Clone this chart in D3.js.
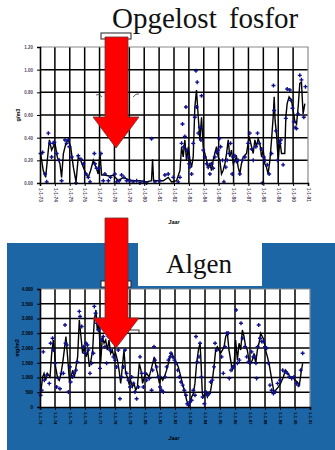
<!DOCTYPE html>
<html><head><meta charset="utf-8">
<script src="https://cdn.jsdelivr.net/npm/d3@7"></script>
<style>body{margin:0;background:#fff}svg{display:block}</style></head>
<body>
<script>
// ---- data ----
const fosforTitle = "Opgelost fosfor";
const algenTitle = "Algen";
const xTickLabels = ["1-1-73","1-1-74","1-1-75","1-1-76","1-1-77","1-1-78","1-1-79","1-1-80","1-1-81","1-1-82","1-1-83","1-1-84","1-1-85","1-1-86","1-1-87","1-1-88","1-1-89","1-1-90","1-1-91"];
const fosforTicks = [0,0.2,0.4,0.6,0.8,1.0,1.2];
const algenTicks = [0,500,1000,1500,2000,2500,3000,3500,4000];

const fosforLineT = [0.04,0.22,0.38,0.49,0.63,0.78,0.89,1.01,1.16,1.34,1.45,1.57,1.74,1.90,2.06,2.24,2.42,2.57,2.73,2.91,3.09,3.24,3.40,3.58,3.76,3.91,4.03,4.14,4.36,4.70,4.92,5.26,5.59,5.93,6.26,6.71,7.16,7.49,7.56,7.63,7.94,8.28,8.61,8.84,9.17,9.40,9.51,9.62,9.73,9.84,9.96,10.07,10.18,10.29,10.40,10.51,10.63,10.74,10.85,10.96,11.07,11.19,11.30,11.41,11.52,11.63,11.74,11.86,11.97,12.08,12.19,12.30,12.42,12.53,12.64,12.75,12.86,12.98,13.09,13.20,13.31,13.42,13.53,13.65,13.87,14.05,14.21,14.32,14.43,14.54,14.65,14.77,14.88,14.99,15.10,15.21,15.32,15.44,15.55,15.66,15.73,15.79,15.88,16.00,16.11,16.22,16.44,16.51,16.60,16.73,16.89,17.00,17.11,17.23,17.34,17.45,17.56,17.67,17.79];
const fosforLineV = [0.26,0.11,0.05,0.20,0.38,0.29,0.32,0.35,0.23,0.17,0.05,0.26,0.35,0.38,0.32,0.14,0.01,0.23,0.20,0.14,0.08,0.05,0.11,0.20,0.14,0.08,0.26,0.07,0.07,0.06,0.07,0.02,0.05,0.03,0.02,0.02,0.01,0.02,0.21,0.02,0.02,0.02,0.05,0.01,0.02,0.11,0.32,0.23,0.38,0.20,0.32,0.20,0.14,0.23,0.67,0.82,0.58,0.38,0.58,0.32,0.26,0.20,0.14,0.17,0.11,0.20,0.26,0.32,0.23,0.20,0.08,0.11,0.17,0.26,0.38,0.23,0.29,0.17,0.20,0.23,0.14,0.08,0.17,0.23,0.26,0.41,0.32,0.26,0.38,0.32,0.39,0.35,0.23,0.29,0.17,0.14,0.08,0.20,0.38,0.58,0.76,0.55,0.44,0.20,0.38,0.26,0.26,0.58,0.70,0.76,0.73,0.64,0.55,0.52,0.67,0.88,0.89,0.61,0.70];

const fosforPtT = [0.04,0.18,0.34,0.45,0.56,0.67,0.78,0.89,0.96,1.12,1.30,1.45,1.68,1.79,1.90,1.97,2.13,2.42,2.57,2.75,2.91,3.09,3.24,3.36,3.65,3.69,3.80,3.98,4.09,4.25,4.36,4.59,4.74,5.03,5.15,5.32,5.48,5.64,5.82,6.04,6.26,6.49,6.71,6.94,7.16,7.49,7.72,8.05,8.39,8.61,8.95,9.28,9.40,9.51,9.57,9.66,9.73,9.80,9.84,9.96,10.02,10.07,10.18,10.29,10.40,10.47,10.51,10.56,10.63,10.74,10.81,10.85,10.96,11.07,11.19,11.30,11.41,11.52,11.63,11.74,11.86,11.97,12.04,12.13,12.26,12.35,12.48,12.57,12.71,12.80,12.91,12.98,13.09,13.20,13.31,13.42,13.60,13.76,13.98,14.09,14.21,14.32,14.50,14.61,14.72,14.88,14.94,15.03,15.12,15.26,15.39,15.55,15.68,15.73,15.84,15.95,16.11,16.17,16.33,16.51,16.60,16.78,16.85,16.96,17.05,17.14,17.23,17.34,17.45,17.56,17.72,17.83];
const fosforPtV = [0.26,0.27,0.08,0.01,0.44,0.35,0.23,0.35,0.36,0.26,0.20,0.02,0.38,0.35,0.38,0.32,0.23,0.00,0.24,0.21,0.17,0.08,0.05,0.01,0.26,0.17,0.13,0.13,0.26,0.02,0.08,0.02,0.05,0.08,0.01,0.02,0.07,0.05,0.02,0.02,0.01,0.02,0.00,0.01,0.00,0.39,0.01,0.02,0.07,0.08,0.05,0.01,0.05,0.35,0.52,0.32,0.41,0.67,0.29,0.23,0.17,0.14,0.08,0.35,0.58,0.99,0.67,0.89,0.44,0.49,0.38,0.77,0.29,0.23,0.17,0.14,0.08,0.17,0.13,0.23,0.27,0.29,0.39,0.32,0.20,0.01,0.14,0.20,0.26,0.35,0.08,0.23,0.24,0.19,0.20,0.08,0.20,0.23,0.35,0.44,0.30,0.20,0.32,0.44,0.35,0.30,0.00,0.23,0.20,0.16,0.08,0.26,0.86,0.64,0.46,0.20,0.35,0.38,0.16,0.57,0.83,0.82,0.73,0.66,0.54,0.49,0.48,0.61,0.95,0.91,0.58,0.85];

const algenLineT = [0.04,0.18,0.27,0.38,0.49,0.67,0.78,0.89,0.96,1.04,1.16,1.29,1.40,1.51,1.62,1.73,1.84,1.96,2.07,2.18,2.29,2.40,2.51,2.62,2.73,2.84,2.96,3.07,3.18,3.29,3.40,3.51,3.62,3.73,3.82,3.93,4.04,4.16,4.27,4.38,4.49,4.60,4.71,4.82,4.93,5.04,5.16,5.27,5.38,5.49,5.60,5.71,5.82,5.93,6.04,6.16,6.27,6.38,6.49,6.62,6.73,6.84,6.96,7.11,7.27,7.40,7.51,7.62,7.73,7.84,7.96,8.07,8.18,8.29,8.44,8.56,8.67,8.78,8.89,9.00,9.11,9.22,9.33,9.44,9.56,9.67,9.78,9.89,10.00,10.11,10.22,10.33,10.44,10.56,10.67,10.73,10.82,10.93,11.04,11.16,11.27,11.38,11.49,11.60,11.71,11.82,11.93,12.04,12.16,12.27,12.38,12.49,12.60,12.71,12.82,12.93,13.04,13.16,13.27,13.38,13.49,13.60,13.71,13.82,13.93,14.04,14.16,14.27,14.38,14.49,14.60,14.71,14.82,14.93,15.04,15.16,15.27,15.38,15.49,15.60,15.71,15.89,16.04,16.22,16.38,16.53,16.69,16.84,17.00,17.16,17.29,17.40,17.51];
const algenLineV = [455,1020,1140,910,1140,1020,1820,2270,1930,1360,1020,910,1140,1480,1930,2390,1700,910,1020,1250,1020,1360,1700,2950,2390,1820,2040,1700,1930,1360,1590,1930,2950,3290,2610,2840,1480,2390,2160,2270,1930,2270,1820,1930,1700,1820,1590,1250,800,1360,1930,1140,1020,800,910,680,800,570,680,1480,1250,800,1020,1140,1020,1250,1480,1700,1360,1140,800,1020,910,1020,1250,1480,1700,1820,1700,1590,1480,1360,1140,910,680,455,230,60,170,340,455,800,1480,1930,2160,1590,455,340,570,340,455,570,910,1360,1930,2040,1930,1820,1930,2040,2390,2500,1930,1590,1250,1360,2270,1590,2160,1930,2610,2390,2040,1930,1590,1480,1590,1820,1480,1930,2160,2500,2390,2270,1930,1700,1480,1140,800,510,570,680,800,1020,1250,1140,1020,1020,910,850,740,1140,1480];

const algenPtT = [0.04,0.11,0.22,0.29,0.44,0.62,0.71,0.84,0.89,1.00,1.11,1.22,1.33,1.44,1.56,1.67,1.71,1.78,1.89,2.00,2.04,2.16,2.27,2.40,2.49,2.62,2.67,2.78,2.89,3.00,3.07,3.16,3.22,3.33,3.44,3.56,3.62,3.71,3.78,3.89,4.00,4.11,4.22,4.33,4.44,4.56,4.67,4.78,4.89,5.00,5.11,5.22,5.33,5.44,5.56,5.67,5.78,5.89,6.00,6.11,6.22,6.33,6.44,6.56,6.67,6.78,6.89,7.00,7.11,7.29,7.44,7.51,7.60,7.67,7.78,7.89,8.00,8.11,8.22,8.33,8.44,8.56,8.67,8.73,8.84,8.96,9.07,9.18,9.29,9.40,9.51,9.62,9.73,9.82,9.91,10.00,10.11,10.22,10.33,10.40,10.49,10.60,10.67,10.76,10.84,10.96,11.04,11.16,11.27,11.38,11.49,11.60,11.67,11.78,12.11,12.22,12.33,12.44,12.56,12.62,12.73,12.84,12.93,13.07,13.16,13.29,13.40,13.51,13.67,13.78,13.89,14.00,14.11,14.22,14.33,14.40,14.44,14.51,14.58,14.67,14.78,14.89,15.00,15.11,15.22,15.33,15.44,15.56,15.67,15.84,16.00,16.18,16.33,16.49,16.62,16.78,16.93,17.11,17.22,17.38,17.51];
const algenPtV = [400,570,1870,910,1080,800,2160,2330,1930,1480,680,970,620,1140,1140,2780,2160,2100,510,1360,850,1020,1140,1250,1530,3240,3070,2730,2040,1820,2160,2100,1930,1140,1480,1820,3410,3180,2840,2610,1310,2270,2390,2040,1480,2390,1930,2270,1700,1590,1360,1930,280,1020,1360,1930,1140,910,680,1020,800,510,280,680,1700,1140,680,1140,910,970,570,1250,2040,1590,1360,1020,680,570,510,1020,1360,1590,1700,1820,1700,1590,1480,1250,1020,850,740,570,400,110,60,170,230,570,400,2390,1530,1700,2160,1020,340,110,510,400,455,850,910,1360,2160,1930,1700,1140,2040,2500,2500,970,1250,1360,1360,3290,1480,1590,2840,2330,2040,1700,1530,1480,1870,1700,1700,1480,970,2040,2780,2330,2220,2220,2040,1990,1480,740,570,455,510,800,910,1250,1190,1140,1020,970,1020,800,740,1250,1820];

// ---- drawing ----
const W = 335, H = 450;
const svg = d3.select("body").append("svg").attr("width", W).attr("height", H);
const BLUE = "#1c66a6";

svg.append("rect").attr("x", 7).attr("y", 243).attr("width", W - 7).attr("height", H - 243).attr("fill", BLUE);
svg.append("rect").attr("x", 138).attr("y", 242).attr("width", 124).attr("height", 44).attr("fill", "#fff");

const nl = d3.formatLocale({decimal: ",", thousands: ".", grouping: [3], currency: ["€", ""]});

function chart(cfg) {
  const x = d3.scaleLinear().domain([0, 18]).range([cfg.x0, cfg.x1]);
  const y = d3.scaleLinear().domain([0, cfg.ymax]).range([cfg.y1, cfg.y0]);
  const g = svg.append("g");
  g.append("rect").attr("x", cfg.x0).attr("y", cfg.y0).attr("width", cfg.x1 - cfg.x0).attr("height", cfg.y1 - cfg.y0).attr("fill", "#fff");
  g.selectAll(".vg").data(d3.range(1, 18)).join("line")
    .attr("x1", d => x(d)).attr("x2", d => x(d)).attr("y1", cfg.y0).attr("y2", cfg.y1)
    .attr("stroke", "#000").attr("stroke-width", 1.5);
  g.selectAll(".hg").data(cfg.ticks.slice(1, -1)).join("line")
    .attr("x1", cfg.x0).attr("x2", cfg.x1).attr("y1", d => y(d)).attr("y2", d => y(d))
    .attr("stroke", "#000").attr("stroke-width", 1.5);
  g.append("path").attr("d", `M${cfg.x0},${cfg.y0}H${cfg.x1}V${cfg.y1}`).attr("fill", "none").attr("stroke", "#8a8a8a").attr("stroke-width", 1.2);

  const lineData = d3.zip(cfg.lineT, cfg.lineV);
  g.append("path").datum(lineData)
    .attr("d", d3.line().x(d => x(d[0])).y(d => y(d[1])))
    .attr("fill", "none").attr("stroke", "#000").attr("stroke-width", 1.4);
  const ptData = d3.zip(cfg.ptT, cfg.ptV);
  g.selectAll(".pt").data(ptData).join("path")
    .attr("transform", d => `translate(${x(d[0])},${y(d[1])})`)
    .attr("d", "M-2,0H2M0,-2V2")
    .attr("stroke", "#10108a").attr("stroke-width", 1.4);

  const ya = d3.axisLeft(y).tickValues(cfg.ticks).tickSize(3).tickFormat(cfg.fmt);
  const yg = g.append("g").attr("transform", `translate(${cfg.x0},0)`).call(ya);
  yg.select(".domain").attr("stroke", "#000").attr("stroke-width", 1.6);
  yg.selectAll(".tick line").attr("stroke", "#000");
  yg.selectAll("text").attr("font-family", "Arial, Liberation Sans, sans-serif").attr("font-size", 4.5).attr("font-weight", "bold").attr("fill", cfg.lab).attr("dx", -1);

  const xa = d3.axisBottom(x).tickValues(d3.range(0, 19)).tickSize(3).tickFormat(i => xTickLabels[i]);
  const xg = g.append("g").attr("transform", `translate(0,${cfg.y1})`).call(xa);
  xg.select(".domain").attr("stroke", "#000").attr("stroke-width", 1.6);
  xg.selectAll(".tick line").attr("stroke", "#000");
  xg.selectAll("text")
    .attr("font-family", "Arial, Liberation Sans, sans-serif").attr("font-size", cfg.xfs).attr("font-weight", "bold").attr("fill", cfg.lab)
    .attr("transform", "rotate(90)").attr("text-anchor", "start")
    .attr("x", 5).attr("y", 0).attr("dy", "0.35em");

  g.append("text").attr("transform", `translate(${cfg.ylabX},${(cfg.y0 + cfg.y1) / 2}) rotate(-90)`)
    .attr("text-anchor", "middle").attr("font-family", "Arial, Liberation Sans, sans-serif").attr("font-size", 5.5).attr("font-weight", "bold").attr("fill", "#000").text(cfg.ylab);
  g.append("text").attr("x", 174).attr("y", cfg.xlabY).attr("text-anchor", "middle")
    .attr("font-family", "Arial, Liberation Sans, sans-serif").attr("font-size", 5.5).attr("font-weight", "bold").attr("font-style", "italic").attr("fill", "#000").text("Jaar");

  g.append("rect").attr("x", 101).attr("y", cfg.legY).attr("width", 30).attr("height", 6).attr("fill", "#fff").attr("stroke", "#222").attr("stroke-width", 1);
  return g;
}

chart({x0: 40, x1: 308, y0: 47, y1: 183, ymax: 1.2, ticks: fosforTicks, fmt: d => d3.format(".2f")(d),
  lineT: fosforLineT, lineV: fosforLineV, ptT: fosforPtT, ptV: fosforPtV, lab: "#5a4a6a", xfs: 4.8,
  ylab: "g/m3", ylabX: 20, xlabY: 224, legY: 33});

chart({x0: 40, x1: 310, y0: 289, y1: 407, ymax: 4000, ticks: algenTicks, fmt: d => nl.format(",")(d),
  lineT: algenLineT, lineV: algenLineV, ptT: algenPtT, ptV: algenPtV, lab: "#000", xfs: 4.3,
  ylab: "mg/m3", ylabX: 19, xlabY: 440, legY: 281});

svg.append("path").attr("d", "M96,95 q3,-2 6,2 M133,97 q3,-4 6,-3").attr("fill", "none").attr("stroke", "#333").attr("stroke-width", 0.8);
svg.append("rect").attr("x", 128).attr("y", 330).attr("width", 11).attr("height", 3).attr("fill", "#fff").attr("stroke", "#222").attr("stroke-width", 0.9);

svg.append("text").attr("x", 112).attr("y", 28).attr("font-family", "Liberation Serif, Times New Roman, serif").attr("font-size", 29).attr("fill", "#111").attr("word-spacing", 5).text(fosforTitle);
svg.append("text").attr("x", 166).attr("y", 273).attr("font-family", "Liberation Serif, Times New Roman, serif").attr("font-size", 27).attr("fill", "#111").text(algenTitle);

function arrow(top, shaftBottom, tip) {
  const p = `M105,${top}H128V${shaftBottom}H139L116,${tip}L93,${shaftBottom}H105Z`;
  svg.append("path").attr("d", p).attr("fill", "#ff0000").attr("stroke", "#6a3030").attr("stroke-width", 0.8);
}
arrow(37, 117, 148);
arrow(218, 318, 348);
</script>
</body></html>
